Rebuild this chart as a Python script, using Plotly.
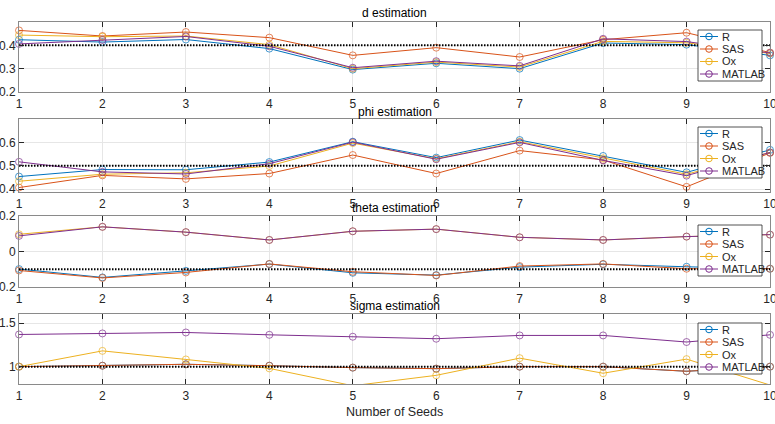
import plotly.graph_objects as go

# ---------------- data ----------------
seeds = [1, 2, 3, 4, 5, 6, 7, 8, 9, 10]
series_names = ["R", "SAS", "Ox", "MATLAB"]
series_colors = ["#0072BD", "#D95319", "#EDB120", "#7E2F8E"]

d_R      = [0.424, 0.414, 0.425, 0.386, 0.296, 0.323, 0.300, 0.410, 0.403, 0.357]
d_SAS    = [0.464, 0.440, 0.457, 0.433, 0.357, 0.390, 0.350, 0.424, 0.454, 0.369]
d_Ox     = [0.444, 0.437, 0.440, 0.403, 0.300, 0.328, 0.307, 0.417, 0.411, 0.365]
d_MATLAB = [0.406, 0.423, 0.438, 0.396, 0.304, 0.332, 0.312, 0.428, 0.416, 0.367]

phi_R      = [0.454, 0.484, 0.483, 0.516, 0.603, 0.535, 0.610, 0.542, 0.472, 0.568]
phi_SAS    = [0.407, 0.459, 0.444, 0.467, 0.546, 0.467, 0.565, 0.525, 0.410, 0.555]
phi_Ox     = [0.434, 0.464, 0.470, 0.499, 0.597, 0.530, 0.603, 0.532, 0.464, 0.557]
phi_MATLAB = [0.517, 0.474, 0.465, 0.509, 0.601, 0.528, 0.600, 0.523, 0.458, 0.557]

theta_R      = [-0.099, -0.146, -0.109, -0.071, -0.120, -0.133, -0.088, -0.072, -0.086, -0.097]
theta_SAS    = [-0.107, -0.149, -0.118, -0.070, -0.114, -0.135, -0.082, -0.070, -0.097, -0.097]
theta_Ox     = [0.097, 0.139, 0.109, 0.065, 0.114, 0.126, 0.080, 0.065, 0.084, 0.095]
theta_MATLAB = [0.088, 0.139, 0.109, 0.065, 0.114, 0.126, 0.080, 0.065, 0.084, 0.095]

sigma_R      = [1.000, 1.011, 1.027, 1.011, 0.989, 0.977, 1.000, 1.000, 0.947, 1.000]
sigma_SAS    = [1.000, 1.011, 1.027, 1.011, 0.989, 0.977, 1.000, 1.000, 0.947, 1.000]
sigma_Ox     = [1.000, 1.182, 1.083, 0.980, 0.780, 0.900, 1.098, 0.924, 1.087, 0.788]
sigma_MATLAB = [1.371, 1.383, 1.394, 1.367, 1.345, 1.322, 1.360, 1.360, 1.284, 1.367]

panel_titles = ["d estimation", "phi estimation", "theta estimation", "sigma estimation"]
true_values = [0.4, 0.5, -0.1, 1.0]
y_ranges = [[0.2, 0.5], [0.388, 0.70], [-0.2, 0.2], [0.8, 1.607]]
y_ticks = [[0.2, 0.3, 0.4], [0.4, 0.5, 0.6], [-0.2, 0, 0.2], [1, 1.5]]
y_ticktext = [["0.2", "0.3", "0.4"], ["0.4", "0.5", "0.6"], ["-0.2", "0", "0.2"], ["1", "1.5"]]
x_label = "Number of Seeds"

panels = [
    [d_R, d_SAS, d_Ox, d_MATLAB],
    [phi_R, phi_SAS, phi_Ox, phi_MATLAB],
    [theta_R, theta_SAS, theta_Ox, theta_MATLAB],
    [sigma_R, sigma_SAS, sigma_Ox, sigma_MATLAB],
]

# ---------------- layout geometry (pixels) ----------------
W, H = 775, 424
L, R = 19, 5
PW = W - L - R
panel_px = [(22, 92), (119, 192), (216, 287), (314, 384)]
title_py = [13, 112, 208, 306]
legend_top = [30, 127, 225, 323]


def xp(px):
    return (px - L) / PW


def yp(py):
    return 1 - py / H


FONT = "Liberation Sans, Arial, sans-serif"
AX_COLOR = "#262626"

fig = go.Figure()
layout = dict(
    width=W, height=H,
    margin=dict(l=L, r=R, t=0, b=0, autoexpand=False),
    paper_bgcolor="white", plot_bgcolor="white",
    showlegend=False,
    font=dict(family=FONT, size=11, color=AX_COLOR),
)
shapes = []
annotations = []

for i, series in enumerate(panels):
    k = "" if i == 0 else str(i + 1)
    lo, hi = y_ranges[i]
    for name, color, vals in zip(series_names, series_colors, series):
        sizes = [7 if lo <= v <= hi else 0 for v in vals]
        fig.add_trace(go.Scatter(
            x=seeds, y=vals, name=name, mode="lines+markers",
            xaxis="x" + k, yaxis="y" + k, cliponaxis=False,
            line=dict(color=color, width=1),
            marker=dict(symbol="circle-open", size=sizes, color=color, line=dict(width=1, color=color)),
        ))
    fig.add_trace(go.Scatter(
        x=[seeds[0], seeds[-1]], y=[true_values[i], true_values[i]],
        mode="lines", xaxis="x" + k, yaxis="y" + k,
        line=dict(color="black", width=2, dash="1.5px,1.5px"),
    ))
    top, bot = panel_px[i]
    common = dict(
        showgrid=True, gridcolor="#e6e6e6", zeroline=False,
        showline=True, linecolor="#8a8a8a", linewidth=1, mirror="ticks",
        ticks="inside", ticklen=5, tickcolor=AX_COLOR, automargin=False,
        ticklabeloverflow="allow",
        tickfont=dict(size=12, color=AX_COLOR),
    )
    layout["xaxis" + k] = dict(
        domain=[0, 1], anchor="y" + k, range=[1, 10], tickvals=seeds,
        ticklabelstandoff=1, **common,
    )
    layout["yaxis" + k] = dict(
        domain=[yp(bot), yp(top)], anchor="x" + k, range=y_ranges[i],
        tickvals=y_ticks[i], ticktext=y_ticktext[i], **common,
    )
    annotations.append(dict(
        text=panel_titles[i], x=0.5, y=yp(title_py[i]), xref="paper", yref="paper",
        xanchor="center", yanchor="middle", showarrow=False,
        font=dict(size=12, color="black"),
    ))

    # compact legend box in MATLAB style
    lt = legend_top[i]
    shapes.append(dict(
        type="rect", xref="paper", yref="paper",
        x0=xp(698), x1=xp(762), y0=yp(lt + 51), y1=yp(lt),
        fillcolor="white", line=dict(color=AX_COLOR, width=0.8), layer="above",
    ))
    for j, (name, color) in enumerate(zip(series_names, series_colors)):
        cy = lt + 6.5 + 12.5 * j
        shapes.append(dict(
            type="line", xref="paper", yref="paper",
            x0=xp(700), x1=xp(718), y0=yp(cy), y1=yp(cy),
            line=dict(color=color, width=1), layer="above",
        ))
        shapes.append(dict(
            type="circle", xref="paper", yref="paper",
            xsizemode="pixel", ysizemode="pixel",
            xanchor=xp(709), yanchor=yp(cy),
            x0=-3.3, x1=3.3, y0=-3.3, y1=3.3,
            fillcolor="rgba(0,0,0,0)", line=dict(color=color, width=1), layer="above",
        ))
        annotations.append(dict(
            text=name, x=xp(719.5), y=yp(cy), xref="paper", yref="paper",
            xanchor="left", yanchor="middle", showarrow=False,
            font=dict(size=11, color=AX_COLOR),
        ))

annotations.append(dict(
    text=x_label, x=0.5, y=yp(412), xref="paper", yref="paper",
    xanchor="center", yanchor="middle", showarrow=False,
    font=dict(size=12.5, color=AX_COLOR),
))

layout["shapes"] = shapes
layout["annotations"] = annotations
fig.update_layout(**layout)
fig.write_html(
    "out.html",
    config={"displayModeBar": False},
    post_script="document.body.style.margin='0';document.body.style.overflow='hidden';",
)
